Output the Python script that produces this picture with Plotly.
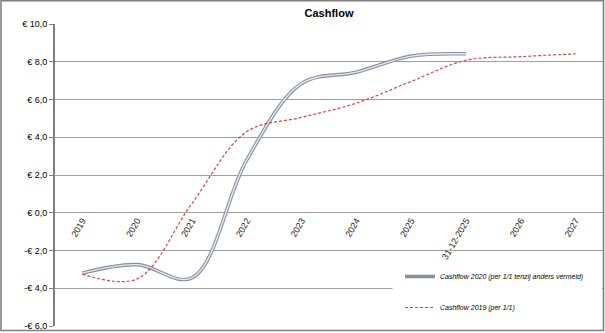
import plotly.graph_objects as go

categories = ["2019", "2020", "2021", "2022", "2023", "2024", "2025", "31-12-2025", "2026", "2027"]
cashflow_2020 = [-3.2, -2.75, -3.45, 2.8, 6.85, 7.45, 8.3, 8.42, None, None]
cashflow_2019 = [-3.25, -3.5, 0.5, 4.3, 5.05, 5.81, 6.96, 8.08, 8.27, 8.42]
y_ticks = [-6, -4, -2, 0, 2, 4, 6, 8, 10]
y_ticktext = ["-€ 6,0", "-€ 4,0", "-€ 2,0", "€ 0,0", "€ 2,0", "€ 4,0", "€ 6,0", "€ 8,0", "€ 10,0"]

name_2020 = "Cashflow 2020 (per 1/1 tenzij anders vermeld)"
name_2019 = "Cashflow 2019 (per 1/1)"

W, H = 605, 333
L, R, T, B = 55, 2, 24, 7
pw, ph = W - L - R, H - T - B

def px_x(x):
    return (x - L) / pw

def px_y(y):
    return (H - B - y) / ph

fig = go.Figure()
fig.add_trace(go.Scatter(
    x=categories, y=cashflow_2020, name=name_2020, mode="lines",
    line=dict(color="#8790a0", width=3.6, shape="spline", smoothing=1),
    legendgroup="a", connectgaps=False,
))
fig.add_trace(go.Scatter(
    x=categories, y=cashflow_2020, name=name_2020, mode="lines",
    line=dict(color="#e6e9ee", width=1.4, shape="spline", smoothing=1),
    legendgroup="a", showlegend=False, hoverinfo="skip",
))
fig.add_trace(go.Scatter(
    x=categories, y=cashflow_2019, name=name_2019, mode="lines",
    line=dict(color="#e04040", width=1.2, dash="3px,2px", shape="spline", smoothing=1),
    legendgroup="b",
))

fig.update_layout(
    width=W, height=H,
    margin=dict(l=L, r=R, t=T, b=B),
    paper_bgcolor="white", plot_bgcolor="white",
    font=dict(family="Liberation Sans, Arial", size=9, color="black"),
    title=dict(text="<b>Cashflow</b>", x=0.5, xref="paper", xanchor="center",
               y=1 - 13.5 / H, yanchor="middle",
               font=dict(size=11, family="Liberation Sans, Arial", color="black")),
    showlegend=True,
    legend=dict(x=px_x(400), y=px_y(262), xanchor="left", yanchor="top",
                bgcolor="rgba(0,0,0,0)",
                font=dict(size=7, family="Liberation Sans, Arial", style="italic", color="black"),
                tracegroupgap=12, itemwidth=30),
    xaxis=dict(type="category", range=[-0.5, 9.5], anchor="free", position=6 / 16,
               showgrid=False, showline=False, zeroline=False, ticks="",
               tickangle=-60, tickfont=dict(size=9, color="#222")),
    yaxis=dict(range=[-6, 10], tickvals=y_ticks, ticktext=y_ticktext,
               showgrid=True, gridcolor="#a0a0a0", gridwidth=1,
               zeroline=False, showline=True, linecolor="#7f7f7f", linewidth=2,
               ticks="outside", ticklen=4, tickcolor="#7f7f7f",
               tickfont=dict(size=9, color="black")),
    shapes=[
        dict(type="rect", xref="paper", yref="paper",
             x0=px_x(392.5), x1=px_x(602), y0=px_y(322), y1=px_y(260),
             fillcolor="white", line=dict(width=0), layer="above"),
        dict(type="rect", xref="paper", yref="paper",
             x0=px_x(1), x1=px_x(603.5), y0=px_y(330.5), y1=px_y(0.8),
             fillcolor="rgba(0,0,0,0)", line=dict(color="#808080", width=1.6), layer="above"),
    ],
)

fig.write_html("out.html")
